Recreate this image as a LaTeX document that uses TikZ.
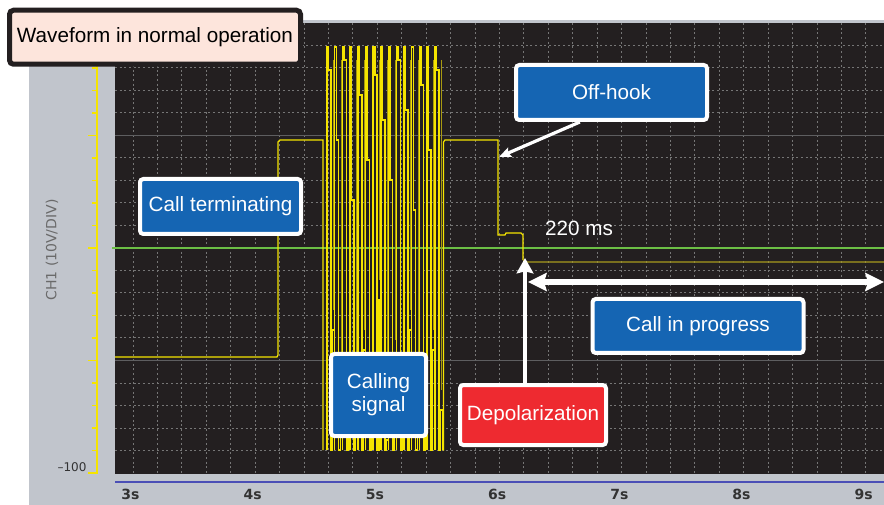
\documentclass[tikz,border=0pt]{standalone}
\usepackage{fontspec}
\setmainfont{Liberation Sans}
\newfontfamily\dejavu{DejaVu Sans}
\usetikzlibrary{arrows.meta}
\definecolor{panelgray}{HTML}{C1C5CC}
\definecolor{plotbg}{HTML}{231F20}
\definecolor{gridc}{HTML}{767676}
\definecolor{majc}{HTML}{5E5E60}
\definecolor{scopeyel}{HTML}{F5E400}
\definecolor{ringdim}{HTML}{A89A10}
\definecolor{dimyel}{HTML}{A89A1E}
\definecolor{greenl}{HTML}{6CBF45}
\definecolor{navyl}{HTML}{4B4FB6}
\definecolor{boxblue}{HTML}{1565B3}
\definecolor{boxred}{HTML}{EE2A30}
\definecolor{titlefill}{HTML}{FDE5DC}
\definecolor{titleborder}{HTML}{231F20}
\definecolor{axislbl}{HTML}{333333}
\definecolor{chlbl}{HTML}{6A6A6A}
\tikzset{
  gridl/.style={gridc, line width=0.75pt, dash pattern=on 1.5pt off 2pt},
  majl/.style={majc, line width=0.9pt},
  wave/.style={scopeyel, line width=0.95pt, line join=miter},
  ringw/.style={scopeyel, line width=1.1pt, line join=miter},
  ringd/.style={ringdim, line width=0.6pt},
  wavedim/.style={dimyel, line width=1pt},
  axisyel/.style={scopeyel, line width=1.1pt},
  lbl/.style={draw=white, line width=3pt, rounded corners=2.5pt, text=white,
    font=\fontsize{15.5}{17.25}\selectfont, inner sep=0pt, align=center},
  axl/.style={font=\dejavu\bfseries\fontsize{10.5}{12}\selectfont, text=axislbl},
  wharrow/.style={white, line width=2.4pt, -{Stealth[length=9pt, width=7.5pt, inset=1.5pt]}},
  wharrowbig/.style={white, line width=3.6pt, -{Stealth[length=11.5pt, width=12.5pt, inset=1.5pt]}},
  wharrowdbl/.style={white, line width=3.8pt, {Stealth[length=14pt, width=13.5pt, inset=2pt]}-{Stealth[length=14pt, width=13.5pt, inset=2pt]}},
}
\begin{document}
\begin{tikzpicture}[x=0.75pt, y=-0.75pt]
\useasboundingbox (0,0) rectangle (884,505);
\fill[white] (0,0) rectangle (884,505);
\fill[panelgray] (29,20) rectangle (884,505);
\fill[plotbg] (115,23) rectangle (884,474);
% grid
\foreach \k in {0,...,30} \draw[gridl] ({133+24.43*\k},23) -- ({133+24.43*\k},474);
\foreach \j in {1,2,3,4,6,7,8,9,11,12,13,14,16,17,18,19} \draw[gridl] (115,{23+22.5*\j}) -- (884,{23+22.5*\j});
\foreach \j in {5,15} \draw[majl] (115,{23+22.5*\j}) -- (884,{23+22.5*\j});
% blue time axis line
\draw[navyl, line width=1.6pt] (115,482) -- (884,482);
% green zero line
\draw[greenl, line width=1.5pt] (112,248.5) -- (884,248.5);
% yellow vertical axis
\draw[axisyel] (97,23) -- (97,474);
\foreach \j in {1,2,3,4,6,7,8,9,11,12,13,14,16,17,18,19} \draw[axisyel] (92,{23+22.5*\j}) -- (97,{23+22.5*\j});
\foreach \j in {0,5,10,15,20} \draw[axisyel] (88,{23+22.5*\j}) -- (97,{23+22.5*\j});
% waveform
\draw[wave] (115,357) -- (277,357) -- (278,355) -- (278,142) -- (280,140) -- (323,140) -- (323,450);
\foreach \i/\a/\b in {0/70/330, 1/140/420, 2/60/380, 3/200/430, 4/95/350, 5/160/410, 6/75/300, 7/120/440, 8/180/360, 9/60/420, 10/110/330, 11/210/400, 12/85/430, 13/150/350, 14/70/410} {
  \draw[ringd] ({333.6+7.7*\i},60) -- ({333.6+7.7*\i},{\b-20});
  \draw[ringw] ({327+7.7*\i},450) -- ({327+7.7*\i},47) -- ({328.6+7.7*\i},47) -- ({328.6+7.7*\i},\a) -- ({331+7.7*\i},\a) -- ({331+7.7*\i},450) -- ({332.6+7.7*\i},450) -- ({332.6+7.7*\i},\b) -- ({334.7+7.7*\i},\b) -- ({334.7+7.7*\i},450);
}
\draw[wave] (442.5,450) -- (443.5,450) -- (443.5,142) -- (445,140) -- (498,140) -- (498,235) -- (505,235) -- (506,233) -- (521,233) -- (523,235) -- (523,260);
\draw[wavedim] (523,260) -- (527,262) -- (884,262);
% axis texts
\foreach \t/\lab in {0/3s,1/4s,2/5s,3/6s,4/7s,5/8s,6/9s}
  \node[axl] (tl\t) at ({130.5+122.2*\t},494) {\lab};
\node[font=\dejavu\fontsize{10.5}{12}\selectfont, text=chlbl, rotate=90] (chl) at (52,250) {CH1 (10V/DIV)};
\node[font=\dejavu\fontsize{9}{10}\selectfont, text=axislbl] (ylow) at (72,467) {–100};
% label boxes
\node[lbl, fill=boxblue, minimum width=120.75pt, minimum height=41.25pt] (callterm) at (220.5,206.5) {Call terminating};
\node[lbl, fill=boxblue, minimum width=143.25pt, minimum height=41.25pt] (offhook) at (611.5,92.5) {Off-hook};
\node[lbl, fill=boxblue, minimum width=71.25pt, minimum height=61.5pt] (callsig) at (378.5,395) {Calling\\signal};
\node[lbl, fill=boxred, minimum width=109.5pt, minimum height=45pt] (depol) at (533,415) {Depolarization};
\node[lbl, fill=boxblue, minimum width=158.25pt, minimum height=40.5pt] (cip) at (698,326) {Call in progress};
\node[font=\fontsize{15.5}{17.25}\selectfont, text=white] (ms) at (579,228) {220 ms};
% arrows
\coordinate (hooktip) at (499,157);
\draw[wharrow] (offhook.223) -- (hooktip);
\coordinate (deptip) at (525,258);
\draw[wharrowbig] (depol.north -| deptip) -- (deptip);
\coordinate (cipL) at (528,282);
\coordinate (cipR) at (884,282);
\draw[wharrowdbl] (cipL) -- (cipR);
% title
\node[draw=titleborder, fill=titlefill, line width=3.75pt, rounded corners=3pt, minimum width=218.25pt, minimum height=40.5pt, inner sep=0pt, text=black, font=\fontsize{15.5}{17.25}\selectfont] (title) at (155,37.25) {Waveform in normal operation};
\end{tikzpicture}
\end{document}
